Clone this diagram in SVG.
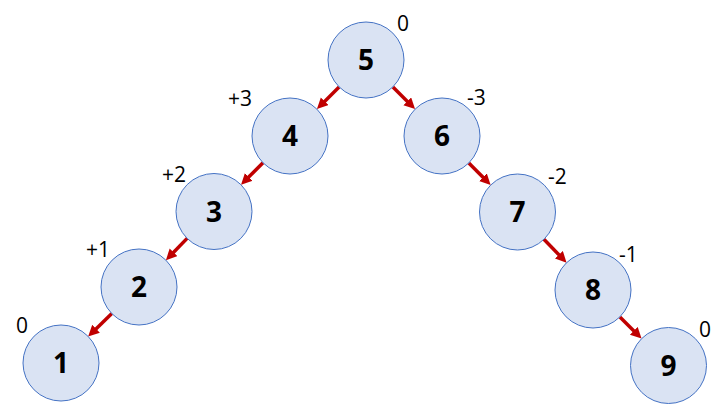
<svg xmlns="http://www.w3.org/2000/svg" width="727" height="405" viewBox="0 0 727 405">
<defs>
<style>
.n{fill:#dae3f3;stroke:#4472c4;stroke-width:1}
.t{font-family:"Open Sans","Noto Sans","Liberation Sans",sans-serif;font-weight:bold;font-size:28px;fill:#000;text-anchor:middle}
.b{font-family:"Open Sans","Noto Sans","Liberation Sans",sans-serif;font-size:21px;fill:#000}
.e{stroke:#c00000;stroke-width:3.5;fill:none;marker-end:url(#ah)}
</style>
<marker id="ah" markerUnits="userSpaceOnUse" markerWidth="12" markerHeight="12" refX="3" refY="5.5" orient="auto">
<path d="M0,0 L11,5.5 L0,11 z" fill="#c00000"/>
</marker>
</defs>
<rect width="727" height="405" fill="#fff"/>
<g id="edges">
<line class="e" x1="339.1" y1="86.9" x2="322.6" y2="103.4"/>
<line class="e" x1="392.9" y1="86.9" x2="409.4" y2="103.4"/>
<line class="e" x1="263.0" y1="162.8" x2="246.7" y2="179.1"/>
<line class="e" x1="187.1" y1="238.4" x2="171.5" y2="254.5"/>
<line class="e" x1="111.8" y1="313.5" x2="93.9" y2="330.9"/>
<line class="e" x1="468.8" y1="163.0" x2="485.0" y2="179.3"/>
<line class="e" x1="543.9" y1="239.3" x2="561.0" y2="256.9"/>
<line class="e" x1="619.9" y1="316.9" x2="635.9" y2="332.9"/>
</g>
<g id="n5"><circle class="n" cx="366" cy="60" r="38"/><text class="t" x="366" y="70">5</text><text class="b" x="397" y="31">0</text></g>
<g id="n4"><circle class="n" cx="290" cy="136" r="38"/><text class="t" x="290" y="146">4</text><text class="b" x="228" y="106">+3</text></g>
<g id="n6"><circle class="n" cx="442" cy="136" r="38"/><text class="t" x="442" y="146">6</text><text class="b" x="467" y="105">-3</text></g>
<g id="n3"><circle class="n" cx="214" cy="211.5" r="38"/><text class="t" x="214" y="221.5">3</text><text class="b" x="162" y="182">+2</text></g>
<g id="n7"><circle class="n" cx="517.5" cy="212" r="38"/><text class="t" x="517.5" y="222">7</text><text class="b" x="548" y="184">-2</text></g>
<g id="n2"><circle class="n" cx="139" cy="287" r="38"/><text class="t" x="139" y="297">2</text><text class="b" x="86" y="257">+1</text></g>
<g id="n8"><circle class="n" cx="593" cy="290" r="38"/><text class="t" x="593" y="300">8</text><text class="b" x="619" y="262">-1</text></g>
<g id="n1"><circle class="n" cx="61" cy="363" r="38"/><text class="t" x="61" y="373">1</text><text class="b" x="16" y="333">0</text></g>
<g id="n9"><circle class="n" cx="668.5" cy="365.5" r="38"/><text class="t" x="668.5" y="375.5">9</text><text class="b" x="699" y="337">0</text></g>
</svg>
